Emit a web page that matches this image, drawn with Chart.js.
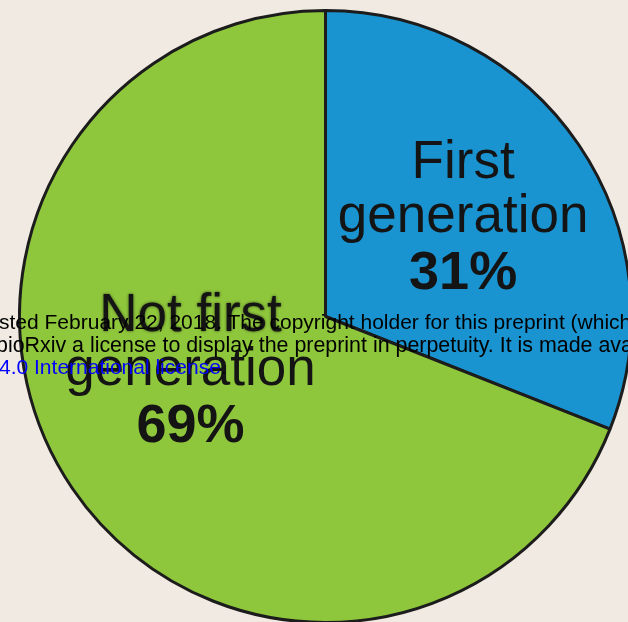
<!DOCTYPE html>
<html>
<head>
<meta charset="utf-8">
<script src="https://cdn.jsdelivr.net/npm/chart.js@4.4.1/dist/chart.umd.min.js"></script>
<style>
  html, body { margin: 0; padding: 0; }
  body {
    width: 628px; height: 622px; overflow: hidden; position: relative;
    background: #f1eae2;
  }
  #wrap { position: absolute; left: 18px; top: 9px; width: 615px; height: 615px; }
  #stamp {
    position: absolute; left: 0; top: 311px;
    font: 21px "Liberation Sans", Arial, sans-serif; line-height: 22.5px;
    color: #000; white-space: nowrap;
  }
  #stamp .blue { color: #0000ff; }
</style>
</head>
<body>
<div id="wrap"><canvas id="pie" width="615" height="615"></canvas></div>
<div id="stamp">
  <div style="margin-left:-1px">sted February 22, 2018. The copyright holder for this preprint (which was not</div>
  <div style="margin-left:-4px; font-size:21.4px">bioRxiv a license to display the preprint in perpetuity. It is made available under</div>
  <div style="margin-left:-1px"><span class="blue">4.0 International license</span>.</div>
</div>
<script>
// share of respondents
const categories = [['First', 'generation'], ['Not first', 'generation']];
const shares = [31, 69];
const sliceColors = ['#1a93d1', '#8fc73c'];

// draws the name + percentage inside each slice
const sliceLabels = {
  id: 'sliceLabels',
  afterDatasetsDraw(chart, args, opts) {
    const ctx = chart.ctx;
    const arcs = chart.getDatasetMeta(0).data;
    ctx.save();
    ctx.fillStyle = '#141414';
    ctx.textAlign = 'center';
    ctx.textBaseline = 'middle';
    arcs.forEach((arc, i) => {
      const p = opts.place[i];
      const { x, y, startAngle, endAngle, outerRadius } = arc.getProps(['x', 'y', 'startAngle', 'endAngle', 'outerRadius']);
      const a = startAngle + p.along * (endAngle - startAngle);
      const cx = x + Math.cos(a) * outerRadius * p.dist;
      const cy = y + Math.sin(a) * outerRadius * p.dist;
      const lines = chart.data.labels[i];
      ctx.font = '53px "Liberation Sans", Arial, sans-serif';
      if (p.soft) {
        ctx.shadowColor = 'rgba(0,0,0,0.6)';
        ctx.shadowBlur = 3;
      }
      ctx.fillText(lines[0], cx, cy - 54);
      ctx.shadowBlur = 0;
      ctx.fillText(lines[1], cx, cy);
      ctx.font = 'bold 54px "Liberation Sans", Arial, sans-serif';
      ctx.fillText(chart.data.datasets[0].data[i] + '%', cx, cy + 57);
    });
    ctx.restore();
  }
};

new Chart(document.getElementById('pie'), {
  type: 'pie',
  data: {
    labels: categories,
    datasets: [{
      data: shares,
      backgroundColor: sliceColors,
      borderColor: '#1c1c1c',
      borderWidth: 3
    }]
  },
  options: {
    responsive: false,
    animation: false,
    layout: { padding: 0 },
    plugins: {
      legend: { display: false },
      tooltip: { enabled: false },
      sliceLabels: {
        place: [{ along: 0.485, dist: 0.555 }, { along: 0.55, dist: 0.475, soft: true }]
      }
    }
  },
  plugins: [sliceLabels]
});
</script>
</body>
</html>
